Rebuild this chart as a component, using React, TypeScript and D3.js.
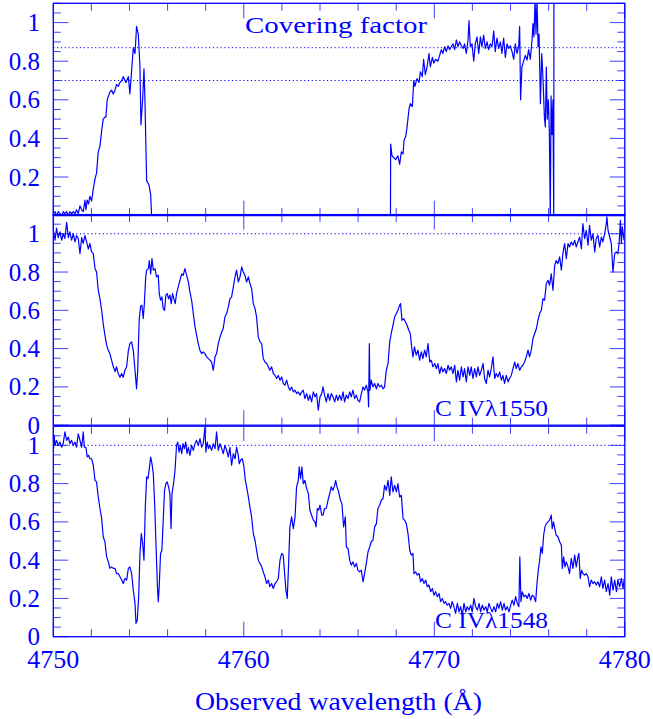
import React from 'react';
import * as d3 from 'd3';

// ---------- data ----------
const xTickValues = [4750, 4760, 4770, 4780];
const yTickLabels = ['0', '0.2', '0.4', '0.6', '0.8', '1'];
const coverLevels = [0.87, 0.7];
const continuumLevels = [1.0];
const panelLabels = ['Covering factor', 'C IVλ1550', 'C IVλ1548'];
const xTitle = 'Observed wavelength (Å)';

type Pt = [number, number | null];

const coverData: Pt[] = [
  [4750.00, 0.01], [4750.09, 0.02], [4750.17, 0.00], [4750.26, 0.02], [4750.35, 0.01], [4750.44, 0.00],
  [4750.52, 0.02], [4750.61, 0.01], [4750.70, 0.02], [4750.79, 0.00], [4750.87, 0.02], [4750.96, 0.01],
  [4751.05, 0.02], [4751.14, 0.01], [4751.22, 0.03], [4751.31, 0.01], [4751.40, 0.05], [4751.49, 0.03],
  [4751.57, 0.02], [4751.66, 0.08], [4751.71, 0.03], [4751.78, 0.08], [4751.85, 0.06], [4751.92, 0.10],
  [4752.01, 0.075], [4752.10, 0.14], [4752.19, 0.19], [4752.27, 0.22], [4752.36, 0.33], [4752.45, 0.36],
  [4752.54, 0.44], [4752.62, 0.50], [4752.71, 0.51], [4752.76, 0.51], [4752.83, 0.60], [4752.97, 0.64],
  [4753.06, 0.65], [4753.15, 0.63], [4753.24, 0.65], [4753.32, 0.68], [4753.41, 0.67], [4753.50, 0.69],
  [4753.59, 0.70], [4753.67, 0.72], [4753.76, 0.70], [4753.81, 0.69], [4753.94, 0.72], [4754.02, 0.63],
  [4754.11, 0.75], [4754.20, 0.87], [4754.29, 0.84], [4754.37, 0.98], [4754.46, 0.94], [4754.55, 0.77],
  [4754.60, 0.47], [4754.69, 0.60], [4754.76, 0.76], [4754.81, 0.60], [4754.90, 0.18], [4755.02, 0.16],
  [4755.11, 0.11], [4755.16, 0.00], [4755.20, null],
  [4767.70, 0.00], [4767.71, 0.37], [4767.78, 0.31], [4767.87, 0.30], [4767.97, 0.29], [4768.09, 0.31],
  [4768.18, 0.265], [4768.27, 0.33], [4768.36, 0.32], [4768.41, 0.39], [4768.50, 0.41], [4768.57, 0.46],
  [4768.67, 0.55], [4768.74, 0.58], [4768.85, 0.565], [4768.92, 0.70], [4768.98, 0.67], [4769.09, 0.71],
  [4769.20, 0.69], [4769.27, 0.745], [4769.37, 0.72], [4769.44, 0.81], [4769.53, 0.73], [4769.62, 0.77],
  [4769.72, 0.84], [4769.79, 0.77], [4769.90, 0.82], [4769.97, 0.79], [4770.07, 0.81], [4770.19, 0.80],
  [4770.28, 0.83], [4770.37, 0.86], [4770.45, 0.84], [4770.54, 0.875], [4770.63, 0.85], [4770.72, 0.88],
  [4770.80, 0.86], [4770.89, 0.875], [4770.98, 0.89], [4771.07, 0.86], [4771.16, 0.91], [4771.24, 0.875],
  [4771.33, 0.90], [4771.42, 0.88], [4771.51, 0.866], [4771.59, 0.89], [4771.68, 0.84], [4771.77, 0.91],
  [4771.82, 1.01], [4771.89, 0.875], [4771.98, 0.89], [4772.07, 0.80], [4772.15, 0.89], [4772.24, 0.926],
  [4772.33, 0.84], [4772.42, 0.926], [4772.50, 0.875], [4772.59, 0.935], [4772.68, 0.866], [4772.77, 0.90],
  [4772.85, 0.86], [4772.94, 0.89], [4773.03, 0.875], [4773.12, 0.957], [4773.20, 0.85], [4773.29, 0.92],
  [4773.38, 0.866], [4773.47, 0.90], [4773.55, 0.84], [4773.64, 0.92], [4773.73, 0.82], [4773.82, 0.89],
  [4773.90, 0.866], [4773.99, 0.88], [4774.08, 0.85], [4774.17, 0.81], [4774.25, 0.89], [4774.34, 0.84],
  [4774.43, 0.875], [4774.48, 0.98], [4774.53, 0.60], [4774.60, 0.77], [4774.69, 0.80], [4774.78, 0.83],
  [4774.87, 0.806], [4774.95, 0.86], [4775.04, 0.81], [4775.13, 0.91], [4775.18, 0.995], [4775.23, 0.926],
  [4775.29, 1.12], [4775.34, 0.94], [4775.39, 1.12], [4775.45, 0.875], [4775.50, 0.94], [4775.57, 0.58],
  [4775.64, 0.84], [4775.71, 0.70], [4775.78, 0.51], [4775.83, 0.46], [4775.88, 0.77], [4775.93, 0.50],
  [4775.99, 0.60], [4776.04, 0.43], [4776.09, -0.02], [4776.13, 0.62], [4776.18, 0.42], [4776.23, 0.60],
  [4776.27, -0.02], [4776.28, 1.12],
];

const c1550Data: Pt[] = [
  [4750.00, 1.02], [4750.09, 0.966], [4750.17, 1.03], [4750.26, 0.98], [4750.35, 1.01], [4750.44, 0.966],
  [4750.52, 1.00], [4750.61, 0.975], [4750.70, 1.06], [4750.79, 0.98], [4750.87, 1.01], [4750.96, 0.966],
  [4751.05, 1.00], [4751.14, 0.957], [4751.22, 0.99], [4751.31, 0.975], [4751.40, 0.896], [4751.49, 0.98],
  [4751.57, 0.95], [4751.66, 0.99], [4751.75, 0.957], [4751.84, 0.92], [4751.92, 0.95], [4752.01, 0.905],
  [4752.10, 0.896], [4752.19, 0.818], [4752.27, 0.80], [4752.36, 0.705], [4752.45, 0.66], [4752.54, 0.60],
  [4752.62, 0.53], [4752.71, 0.47], [4752.80, 0.418], [4752.89, 0.39], [4752.97, 0.374], [4753.06, 0.34],
  [4753.15, 0.305], [4753.24, 0.28], [4753.32, 0.305], [4753.41, 0.27], [4753.50, 0.25], [4753.59, 0.27],
  [4753.67, 0.25], [4753.76, 0.287], [4753.85, 0.305], [4753.94, 0.39], [4754.02, 0.426], [4754.11, 0.435],
  [4754.20, 0.39], [4754.29, 0.287], [4754.37, 0.19], [4754.43, 0.287], [4754.51, 0.55], [4754.58, 0.62],
  [4754.65, 0.627], [4754.72, 0.557], [4754.78, 0.635], [4754.85, 0.775], [4754.90, 0.81], [4754.99, 0.818],
  [4755.04, 0.86], [4755.11, 0.79], [4755.18, 0.87], [4755.25, 0.81], [4755.34, 0.818], [4755.42, 0.775],
  [4755.51, 0.783], [4755.56, 0.687], [4755.63, 0.653], [4755.70, 0.67], [4755.77, 0.609], [4755.84, 0.60],
  [4755.91, 0.68], [4755.98, 0.687], [4756.05, 0.66], [4756.12, 0.68], [4756.19, 0.635], [4756.26, 0.687],
  [4756.33, 0.66], [4756.40, 0.635], [4756.47, 0.687], [4756.56, 0.722], [4756.65, 0.757], [4756.74, 0.79],
  [4756.82, 0.783], [4756.91, 0.818], [4757.00, 0.783], [4757.09, 0.748], [4757.17, 0.696], [4757.26, 0.653],
  [4757.35, 0.583], [4757.44, 0.513], [4757.52, 0.47], [4757.61, 0.426], [4757.70, 0.39], [4757.79, 0.374],
  [4757.87, 0.383], [4757.96, 0.374], [4758.05, 0.357], [4758.14, 0.348], [4758.22, 0.34], [4758.31, 0.33],
  [4758.40, 0.287], [4758.49, 0.357], [4758.57, 0.374], [4758.66, 0.426], [4758.75, 0.46], [4758.84, 0.487],
  [4758.92, 0.505], [4759.01, 0.566], [4759.10, 0.583], [4759.19, 0.618], [4759.27, 0.66], [4759.36, 0.67],
  [4759.45, 0.722], [4759.54, 0.775], [4759.62, 0.81], [4759.71, 0.748], [4759.80, 0.775], [4759.89, 0.827],
  [4759.97, 0.80], [4760.06, 0.783], [4760.15, 0.748], [4760.24, 0.775], [4760.32, 0.74], [4760.41, 0.714],
  [4760.50, 0.635], [4760.59, 0.609], [4760.67, 0.566], [4760.76, 0.46], [4760.85, 0.435], [4760.94, 0.426],
  [4761.02, 0.348], [4761.11, 0.33], [4761.20, 0.322], [4761.29, 0.305], [4761.37, 0.287], [4761.46, 0.305],
  [4761.55, 0.27], [4761.64, 0.26], [4761.72, 0.244], [4761.81, 0.26], [4761.90, 0.235], [4761.99, 0.252],
  [4762.07, 0.218], [4762.16, 0.209], [4762.25, 0.235], [4762.34, 0.20], [4762.42, 0.183], [4762.51, 0.20],
  [4762.60, 0.174], [4762.69, 0.183], [4762.77, 0.165], [4762.86, 0.174], [4762.95, 0.157], [4763.04, 0.174],
  [4763.12, 0.183], [4763.21, 0.139], [4763.30, 0.165], [4763.39, 0.13], [4763.47, 0.157], [4763.56, 0.122],
  [4763.65, 0.174], [4763.74, 0.148], [4763.82, 0.165], [4763.91, 0.078], [4764.00, 0.148], [4764.09, 0.165],
  [4764.16, 0.20], [4764.24, 0.157], [4764.33, 0.122], [4764.42, 0.165], [4764.51, 0.13], [4764.59, 0.165],
  [4764.68, 0.148], [4764.77, 0.122], [4764.86, 0.157], [4764.94, 0.13], [4765.03, 0.157], [4765.12, 0.13],
  [4765.21, 0.174], [4765.29, 0.122], [4765.38, 0.157], [4765.47, 0.139], [4765.56, 0.174], [4765.64, 0.148],
  [4765.73, 0.183], [4765.82, 0.139], [4765.91, 0.157], [4765.99, 0.13], [4766.08, 0.122], [4766.17, 0.165],
  [4766.26, 0.20], [4766.34, 0.183], [4766.43, 0.209], [4766.52, 0.174], [4766.55, 0.096], [4766.59, 0.426],
  [4766.62, 0.183], [4766.69, 0.235], [4766.78, 0.20], [4766.87, 0.218], [4766.96, 0.19], [4767.04, 0.218],
  [4767.13, 0.20], [4767.22, 0.209], [4767.31, 0.19], [4767.39, 0.20], [4767.48, 0.287], [4767.57, 0.322],
  [4767.66, 0.435], [4767.74, 0.479], [4767.83, 0.522], [4767.92, 0.566], [4768.01, 0.583], [4768.09, 0.60],
  [4768.18, 0.627], [4768.23, 0.635], [4768.30, 0.548], [4768.39, 0.557], [4768.48, 0.54], [4768.57, 0.522],
  [4768.66, 0.496], [4768.74, 0.479], [4768.81, 0.409], [4768.88, 0.357], [4768.96, 0.409], [4769.05, 0.366],
  [4769.14, 0.392], [4769.23, 0.34], [4769.32, 0.383], [4769.40, 0.348], [4769.49, 0.392], [4769.58, 0.357],
  [4769.67, 0.426], [4769.76, 0.33], [4769.84, 0.34], [4769.93, 0.305], [4770.02, 0.322], [4770.11, 0.296],
  [4770.19, 0.322], [4770.28, 0.27], [4770.37, 0.305], [4770.45, 0.278], [4770.54, 0.296], [4770.63, 0.27],
  [4770.72, 0.313], [4770.80, 0.287], [4770.89, 0.305], [4770.98, 0.27], [4771.07, 0.313], [4771.16, 0.226],
  [4771.24, 0.287], [4771.33, 0.235], [4771.42, 0.305], [4771.51, 0.252], [4771.59, 0.296], [4771.68, 0.226],
  [4771.77, 0.305], [4771.86, 0.26], [4771.94, 0.305], [4772.03, 0.244], [4772.12, 0.296], [4772.21, 0.252],
  [4772.29, 0.305], [4772.38, 0.26], [4772.47, 0.287], [4772.56, 0.322], [4772.64, 0.244], [4772.73, 0.218],
  [4772.82, 0.287], [4772.90, 0.252], [4772.99, 0.296], [4773.08, 0.357], [4773.17, 0.244], [4773.25, 0.27],
  [4773.34, 0.252], [4773.43, 0.278], [4773.52, 0.235], [4773.60, 0.26], [4773.69, 0.218], [4773.78, 0.26],
  [4773.87, 0.226], [4773.95, 0.244], [4774.04, 0.26], [4774.13, 0.296], [4774.22, 0.33], [4774.30, 0.296],
  [4774.39, 0.322], [4774.48, 0.287], [4774.57, 0.305], [4774.65, 0.313], [4774.74, 0.33], [4774.83, 0.357],
  [4774.92, 0.392], [4775.00, 0.357], [4775.09, 0.392], [4775.18, 0.453], [4775.27, 0.479], [4775.36, 0.505],
  [4775.44, 0.548], [4775.53, 0.583], [4775.62, 0.60], [4775.70, 0.66], [4775.79, 0.653], [4775.88, 0.74],
  [4775.97, 0.757], [4776.05, 0.731], [4776.14, 0.79], [4776.23, 0.705], [4776.32, 0.835], [4776.40, 0.86],
  [4776.49, 0.844], [4776.58, 0.879], [4776.67, 0.81], [4776.75, 0.896], [4776.84, 0.949], [4776.93, 0.87],
  [4777.02, 0.949], [4777.10, 0.931], [4777.19, 0.957], [4777.28, 0.94], [4777.37, 0.966], [4777.45, 0.931],
  [4777.54, 0.957], [4777.63, 0.983], [4777.72, 0.922], [4777.80, 1.053], [4777.89, 0.975], [4777.98, 1.018],
  [4778.07, 0.94], [4778.15, 1.044], [4778.24, 0.966], [4778.33, 1.00], [4778.42, 0.905], [4778.50, 0.975],
  [4778.59, 0.992], [4778.68, 0.931], [4778.77, 0.983], [4778.85, 0.957], [4778.94, 1.00], [4779.03, 1.053],
  [4779.06, 1.088], [4779.12, 1.018], [4779.21, 0.983], [4779.29, 0.949], [4779.38, 0.80], [4779.47, 0.896],
  [4779.56, 0.905], [4779.64, 0.896], [4779.70, 0.949], [4779.77, 1.07], [4779.82, 0.949], [4779.87, 1.036],
  [4779.96, 0.966],
];

const c1548Data: Pt[] = [
  [4750.00, 0.965], [4750.05, 1.052], [4750.09, 1.00], [4750.17, 1.026], [4750.26, 1.00], [4750.35, 1.017],
  [4750.44, 0.99], [4750.52, 1.009], [4750.61, 1.07], [4750.70, 1.026], [4750.79, 1.043], [4750.87, 1.009],
  [4750.96, 1.026], [4751.05, 1.00], [4751.14, 1.017], [4751.22, 0.99], [4751.31, 1.06], [4751.40, 1.026],
  [4751.49, 0.99], [4751.57, 1.07], [4751.63, 0.99], [4751.71, 0.99], [4751.78, 0.94], [4751.85, 0.948],
  [4751.92, 0.93], [4752.01, 0.93], [4752.10, 0.896], [4752.19, 0.817], [4752.27, 0.809], [4752.36, 0.73],
  [4752.45, 0.67], [4752.54, 0.617], [4752.62, 0.522], [4752.71, 0.496], [4752.80, 0.417], [4752.89, 0.391],
  [4752.97, 0.357], [4753.06, 0.365], [4753.15, 0.357], [4753.24, 0.357], [4753.32, 0.33], [4753.41, 0.33],
  [4753.50, 0.313], [4753.59, 0.296], [4753.67, 0.278], [4753.76, 0.304], [4753.85, 0.296], [4753.94, 0.357],
  [4754.02, 0.365], [4754.11, 0.33], [4754.20, 0.243], [4754.29, 0.174], [4754.34, 0.07], [4754.41, 0.087],
  [4754.48, 0.209], [4754.55, 0.435], [4754.62, 0.539], [4754.69, 0.487], [4754.76, 0.40], [4754.83, 0.678],
  [4754.90, 0.835], [4754.97, 0.826], [4755.04, 0.878], [4755.11, 0.939], [4755.18, 0.904], [4755.25, 0.852],
  [4755.32, 0.696], [4755.39, 0.487], [4755.46, 0.278], [4755.51, 0.183], [4755.56, 0.261], [4755.63, 0.435],
  [4755.70, 0.452], [4755.77, 0.609], [4755.84, 0.765], [4755.91, 0.80], [4755.98, 0.809], [4756.05, 0.783],
  [4756.12, 0.748], [4756.18, 0.565], [4756.23, 0.748], [4756.30, 0.791], [4756.39, 0.87], [4756.47, 1.00],
  [4756.53, 1.017], [4756.60, 0.965], [4756.67, 1.00], [4756.74, 0.957], [4756.81, 1.009], [4756.88, 0.983],
  [4756.95, 1.017], [4757.02, 0.957], [4757.09, 0.99], [4757.17, 0.948], [4757.26, 1.00], [4757.35, 0.974],
  [4757.44, 1.009], [4757.52, 1.026], [4757.61, 1.00], [4757.70, 1.035], [4757.79, 0.99], [4757.87, 1.009],
  [4757.96, 1.096], [4758.01, 0.965], [4758.08, 1.017], [4758.15, 0.983], [4758.22, 1.00], [4758.31, 0.974],
  [4758.40, 1.009], [4758.49, 0.983], [4758.57, 1.07], [4758.66, 0.974], [4758.75, 1.009], [4758.84, 0.983],
  [4758.92, 0.957], [4759.01, 1.00], [4759.10, 0.974], [4759.19, 0.939], [4759.27, 0.99], [4759.36, 0.896],
  [4759.45, 0.957], [4759.54, 0.93], [4759.62, 0.99], [4759.71, 0.948], [4759.76, 0.904], [4759.83, 0.922],
  [4759.92, 0.93], [4760.01, 0.887], [4760.08, 0.817], [4760.15, 0.783], [4760.24, 0.73], [4760.32, 0.678],
  [4760.41, 0.626], [4760.50, 0.539], [4760.59, 0.504], [4760.67, 0.452], [4760.76, 0.40], [4760.85, 0.383],
  [4760.94, 0.365], [4761.02, 0.339], [4761.11, 0.313], [4761.20, 0.278], [4761.29, 0.296], [4761.37, 0.261],
  [4761.46, 0.278], [4761.55, 0.252], [4761.64, 0.278], [4761.72, 0.287], [4761.81, 0.304], [4761.90, 0.40],
  [4761.99, 0.435], [4762.07, 0.426], [4762.13, 0.348], [4762.21, 0.243], [4762.28, 0.20], [4762.34, 0.348],
  [4762.42, 0.574], [4762.51, 0.626], [4762.60, 0.565], [4762.69, 0.626], [4762.77, 0.783], [4762.86, 0.817],
  [4762.91, 0.887], [4762.98, 0.826], [4763.05, 0.887], [4763.12, 0.80], [4763.21, 0.817], [4763.30, 0.774],
  [4763.39, 0.748], [4763.47, 0.661], [4763.56, 0.635], [4763.65, 0.609], [4763.74, 0.60], [4763.79, 0.574],
  [4763.86, 0.67], [4763.93, 0.661], [4764.00, 0.687], [4764.09, 0.635], [4764.16, 0.635], [4764.24, 0.67],
  [4764.33, 0.67], [4764.42, 0.713], [4764.51, 0.748], [4764.59, 0.783], [4764.68, 0.765], [4764.77, 0.791],
  [4764.82, 0.817], [4764.89, 0.783], [4764.98, 0.757], [4765.07, 0.713], [4765.15, 0.696], [4765.24, 0.574],
  [4765.33, 0.626], [4765.38, 0.47], [4765.47, 0.461], [4765.56, 0.40], [4765.64, 0.374], [4765.73, 0.391],
  [4765.82, 0.365], [4765.91, 0.383], [4765.99, 0.348], [4766.08, 0.339], [4766.17, 0.348], [4766.26, 0.287],
  [4766.34, 0.33], [4766.43, 0.383], [4766.52, 0.443], [4766.61, 0.47], [4766.69, 0.496], [4766.78, 0.504],
  [4766.87, 0.574], [4766.96, 0.591], [4767.04, 0.67], [4767.13, 0.687], [4767.22, 0.713], [4767.31, 0.722],
  [4767.39, 0.791], [4767.48, 0.765], [4767.57, 0.817], [4767.66, 0.739], [4767.74, 0.835], [4767.83, 0.757],
  [4767.92, 0.791], [4768.01, 0.757], [4768.09, 0.80], [4768.18, 0.73], [4768.27, 0.739], [4768.36, 0.617],
  [4768.44, 0.609], [4768.53, 0.591], [4768.62, 0.539], [4768.71, 0.452], [4768.79, 0.426], [4768.88, 0.435],
  [4768.93, 0.33], [4769.02, 0.339], [4769.10, 0.322], [4769.20, 0.33], [4769.28, 0.287], [4769.37, 0.304],
  [4769.46, 0.278], [4769.55, 0.296], [4769.63, 0.261], [4769.72, 0.27], [4769.81, 0.235], [4769.90, 0.252],
  [4769.98, 0.217], [4770.07, 0.235], [4770.16, 0.209], [4770.25, 0.226], [4770.33, 0.183], [4770.42, 0.20],
  [4770.51, 0.174], [4770.59, 0.183], [4770.68, 0.165], [4770.77, 0.174], [4770.86, 0.148], [4770.94, 0.183],
  [4771.03, 0.157], [4771.12, 0.122], [4771.21, 0.174], [4771.30, 0.13], [4771.38, 0.157], [4771.47, 0.113],
  [4771.56, 0.174], [4771.65, 0.13], [4771.73, 0.157], [4771.82, 0.139], [4771.91, 0.165], [4771.99, 0.13],
  [4772.08, 0.20], [4772.17, 0.157], [4772.26, 0.139], [4772.35, 0.174], [4772.43, 0.13], [4772.52, 0.165],
  [4772.61, 0.139], [4772.70, 0.157], [4772.78, 0.13], [4772.87, 0.174], [4772.96, 0.148], [4773.04, 0.13],
  [4773.13, 0.157], [4773.22, 0.13], [4773.31, 0.174], [4773.39, 0.148], [4773.48, 0.183], [4773.57, 0.139],
  [4773.66, 0.174], [4773.74, 0.139], [4773.83, 0.157], [4773.92, 0.13], [4774.01, 0.165], [4774.09, 0.191],
  [4774.18, 0.165], [4774.27, 0.209], [4774.36, 0.174], [4774.44, 0.157], [4774.49, 0.417], [4774.55, 0.183],
  [4774.62, 0.235], [4774.71, 0.209], [4774.80, 0.217], [4774.88, 0.20], [4774.97, 0.226], [4775.06, 0.191],
  [4775.14, 0.217], [4775.23, 0.209], [4775.32, 0.183], [4775.39, 0.278], [4775.46, 0.348], [4775.53, 0.40],
  [4775.60, 0.47], [4775.67, 0.435], [4775.74, 0.53], [4775.81, 0.574], [4775.88, 0.591], [4775.97, 0.60],
  [4776.05, 0.609], [4776.14, 0.635], [4776.19, 0.565], [4776.26, 0.60], [4776.34, 0.557], [4776.40, 0.53],
  [4776.49, 0.522], [4776.58, 0.496], [4776.67, 0.478], [4776.72, 0.357], [4776.79, 0.417], [4776.86, 0.365],
  [4776.93, 0.391], [4777.02, 0.365], [4777.10, 0.33], [4777.19, 0.409], [4777.28, 0.357], [4777.37, 0.426],
  [4777.45, 0.365], [4777.54, 0.417], [4777.59, 0.435], [4777.66, 0.304], [4777.73, 0.348], [4777.80, 0.33],
  [4777.89, 0.322], [4777.98, 0.33], [4778.07, 0.313], [4778.15, 0.261], [4778.24, 0.296], [4778.33, 0.278],
  [4778.42, 0.287], [4778.50, 0.27], [4778.59, 0.287], [4778.68, 0.261], [4778.77, 0.313], [4778.85, 0.252],
  [4778.94, 0.296], [4779.03, 0.235], [4779.12, 0.278], [4779.21, 0.217], [4779.29, 0.313], [4779.38, 0.243],
  [4779.47, 0.296], [4779.56, 0.235], [4779.64, 0.296], [4779.73, 0.261], [4779.82, 0.304], [4779.91, 0.252],
  [4779.96, 0.296],
];

// ---------- layout ----------
const W = 653;
const H = 719;
const X0 = 53.3;
const X1 = 624.8;
const BLUE = '#0000ff';
const FONT = '"Liberation Serif", "DejaVu Serif", serif';

const panels = [
  { data: coverData, top: 3.3, bottom: 215.6, dotted: coverLevels, showZero: false,
    label: panelLabels[0], lx: 245, ly: 33, llen: 182 },
  { data: c1550Data, top: 214.6, bottom: 425.2, dotted: continuumLevels, showZero: true,
    label: panelLabels[1], lx: 435, ly: 415.5, llen: 113 },
  { data: c1548Data, top: 426.2, bottom: 636.7, dotted: continuumLevels, showZero: true,
    label: panelLabels[2], lx: 435, ly: 627.5, llen: 113 },
];

export default function App() {
  const x = d3.scaleLinear().domain([4750, 4780]).range([X0, X1]);
  const xMinor = d3.range(4750, 4780.001, 2);
  const xMajor = xTickValues;

  return (
    <svg width={W} height={H} style={{ position: 'absolute', left: 0, top: 0, background: '#fff' }}>
      <defs>
        {panels.map((p, i) => (
          <clipPath id={`clip${i}`} key={i}>
            <rect x={X0} y={p.top} width={X1 - X0} height={p.bottom - p.top} />
          </clipPath>
        ))}
      </defs>
      {panels.map((p, i) => {
        const y = d3.scaleLinear().domain([0, 1.1]).range([p.bottom, p.top]);
        const yMinor = d3.range(0, 1.1001, 0.05);
        const line = d3
          .line<Pt>()
          .defined((d) => d[1] !== null)
          .x((d) => x(d[0]))
          .y((d) => y(d[1] as number));
        const labels = yTickLabels.filter((_, k) => p.showZero || k > 0);
        return (
          <g key={i}>
            {p.dotted.map((v, k) => (
              <line key={k} x1={X0} x2={X1} y1={y(v)} y2={y(v)} stroke={BLUE}
                strokeWidth={1} strokeDasharray="1.2,2.6" />
            ))}
            <path d={line(p.data) || ''} fill="none" stroke={BLUE} strokeWidth={1.2}
              strokeLinejoin="round" clipPath={`url(#clip${i})`} />
            {xMinor.map((v) => {
              const len = xMajor.includes(v) ? 15 : 7.5;
              return (
                <g key={`xt${v}`} stroke={BLUE} strokeWidth={1} strokeOpacity={0.75}>
                  <line x1={x(v)} x2={x(v)} y1={p.bottom} y2={p.bottom - len} />
                  <line x1={x(v)} x2={x(v)} y1={p.top} y2={p.top + len} />
                </g>
              );
            })}
            {yMinor.map((v, k) => {
              const major = k % 4 === 0 && v <= 1.0001;
              const len = major ? 15 : 7.5;
              return (
                <g key={`yt${k}`} stroke={BLUE} strokeWidth={1} strokeOpacity={0.75}>
                  <line x1={X0} x2={X0 + len} y1={y(v)} y2={y(v)} />
                  <line x1={X1} x2={X1 - len} y1={y(v)} y2={y(v)} />
                </g>
              );
            })}
            <rect x={X0} y={p.top} width={X1 - X0} height={p.bottom - p.top}
              fill="none" stroke={BLUE} strokeWidth={1.3} />
            {labels.map((t) => (
              <text key={t} x={40} y={y(+t) + 8.5} textAnchor="end" fill={BLUE}
                fontFamily={FONT} fontSize={25}>{t}</text>
            ))}
            <text x={p.lx} y={p.ly} fill={BLUE} fontFamily={FONT} fontSize={24}
              textLength={p.llen} lengthAdjust="spacingAndGlyphs">{p.label}</text>
          </g>
        );
      })}
      {xMajor.map((v) => (
        <text key={v} x={x(v)} y={668} textAnchor="middle" fill={BLUE}
          fontFamily={FONT} fontSize={26}>{v}</text>
      ))}
      <text x={195} y={710} fill={BLUE} fontFamily={FONT} fontSize={25}
        textLength={287} lengthAdjust="spacingAndGlyphs">{xTitle}</text>
    </svg>
  );
}
